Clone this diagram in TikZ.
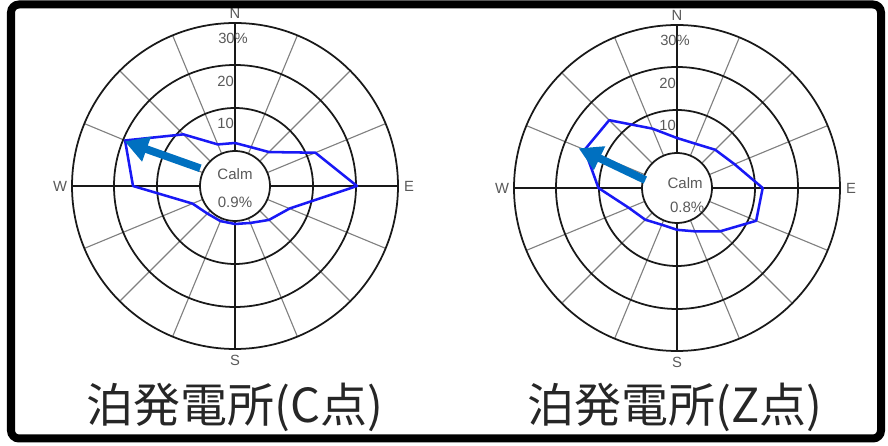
\documentclass[tikz,border=0pt]{standalone}
\usepackage{fontspec}
\setmainfont{Liberation Sans}
\newfontfamily\cjk{Noto Sans CJK JP}
\usetikzlibrary{
  arrows.meta
}
\definecolor{roseblue}{RGB}{25,25,245}
\definecolor{arrowblue}{RGB}{0,112,192}
\tikzset{
  ring/.style={draw=black!90, line width=1.25pt},
  spoke/.style={draw=black!50, line width=0.8pt},
  axis/.style={draw=black!90, line width=1.2pt},
  tick/.style={text=black!65, inner sep=0pt,
    font=\fontsize{10.5}{12}\selectfont},
  calmtext/.style={text=black!65, inner sep=0pt,
    font=\fontsize{10.7}{12}\selectfont},
  windline/.style={draw=roseblue, line width=1.8pt, line join=round},
  windarrow/.style={draw=arrowblue, line width=5.5pt,
    -{Triangle[length=0.58cm, width=0.62cm]}},
  station/.style={text=black!85, inner sep=0pt,
    font=\cjk\fontsize{33.4}{36}\selectfont},
  rosegrid/.pic={
    \foreach \a in {22.5,45,67.5,112.5,135,157.5,202.5,225,247.5,292.5,315,337.5}
      \draw [spoke] (\a:35) -- (\a:163);
    \foreach \a in {0,90,180,270}
      \draw [axis] (\a:35) -- (\a:163);
    \foreach \r in {35,78,121,163}
      \draw [ring] (0,0) circle (\r);
    \node [tick, anchor=east] (t10) at (-1,63) {10};
    \node [tick, anchor=east] (t20) at (-1,105) {20};
    \node [tick, anchor=west] (t30) at (-17,148) {30\%};
    \node [tick] (N) at (90:173) {N};
    \node [tick] (E) at (0:174) {E};
    \node [tick] (S) at (270:174) {S};
    \node [tick] (W) at (180:175) {W};
  }
}

\begin{document}
\begin{tikzpicture}[x=0.025cm, y=0.025cm]
  \useasboundingbox (0,0) rectangle (888,446);
  \coordinate (OC) at (235,260);
  \coordinate (OZ) at (677,258);

  % C point
  \begin{scope}[shift={(OC)}]
    \pic (gC-) at (0,0) {rosegrid};
    \draw [windline] (90:43) -- (67.5:42) -- (45:48) -- (22.5:87)
      -- (0:122) -- (-22.5:59) -- (-45:48) -- (-67.5:40)
      -- (-90:38) -- (-112.5:38) -- (-135:39) -- (-157.5:46)
      -- (180:102) -- (157.5:119) -- (135:73) -- (112.5:45) -- cycle;
    \node [calmtext] (calmC) at (0,12) {Calm};
    \node [calmtext] (pctC) at (0,-16) {0.9\%};
    \coordinate (tailC) at (153:39);
    \coordinate (tipC) at (158:119);
    \draw [windarrow] (tailC) -- (tipC);
  \end{scope}

  % Z point
  \begin{scope}[shift={(OZ)}, scale=1.02]
    \pic (gZ-) at (0,0) {rosegrid};
    \draw [windline] (90:49) -- (67.5:47) -- (45:53) -- (22.5:61)
      -- (0:84) -- (-22.5:84) -- (-45:60) -- (-67.5:46)
      -- (-90:41) -- (-112.5:39) -- (-135:44) -- (-157.5:51)
      -- (180:77) -- (157.5:98) -- (135:94) -- (112.5:63) -- cycle;
    \node [calmtext] (calmZ) at (8,5) {Calm};
    \node [calmtext] (pctZ) at (10,-19) {0.8\%};
    \coordinate (tailZ) at (166:32);
    \coordinate (tipZ) at (158:104);
    \draw [windarrow] (tailZ) -- (tipZ);
  \end{scope}

  \node [station] (titleC) at (235,39) {泊発電所(C点)};
  \node [station] (titleZ) at (675,39) {泊発電所(Z点)};

  \draw [line width=0.2cm, rounded corners=0.2cm] (11,7.5) rectangle (881,441.5);
\end{tikzpicture}
\end{document}
